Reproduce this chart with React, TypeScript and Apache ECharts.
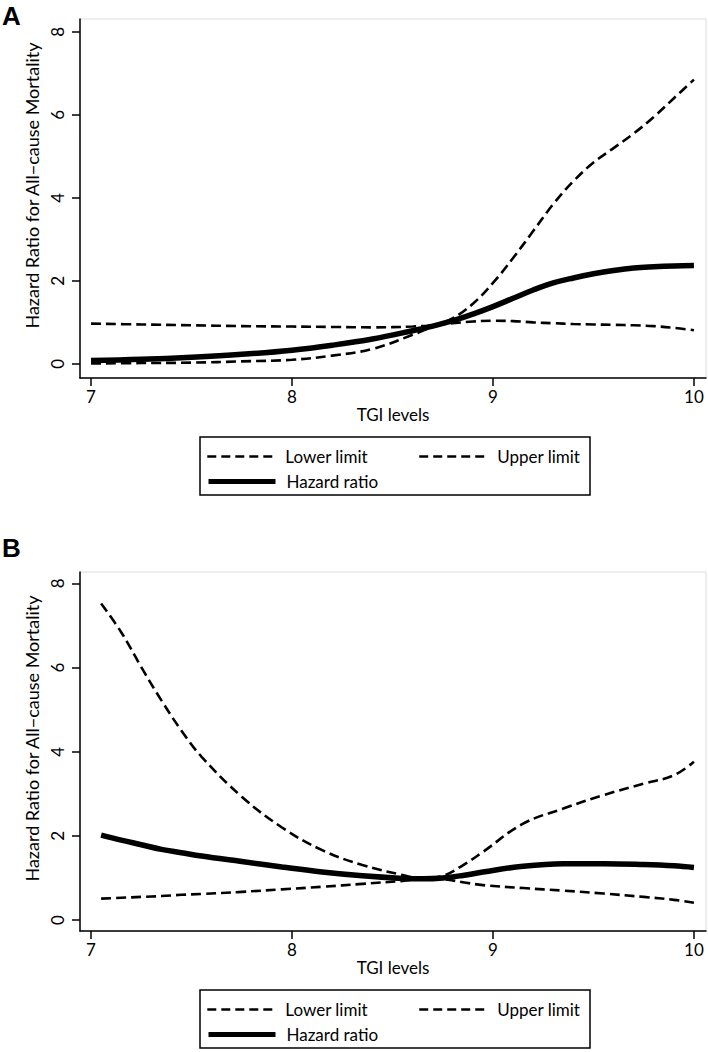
import React, { useEffect, useRef } from "react";
import * as echarts from "echarts";

// Panel A data
const xA = [7, 7.25, 7.5, 7.75, 8, 8.2, 8.4, 8.6, 8.7, 8.8, 8.9, 9, 9.1, 9.2, 9.3, 9.4, 9.5, 9.6, 9.7, 9.8, 9.9, 10];
const upperA = [0.01, 0.02, 0.03, 0.06, 0.1, 0.2, 0.36, 0.7, 0.9, 1.1, 1.45, 1.95, 2.55, 3.2, 3.85, 4.4, 4.85, 5.2, 5.55, 5.95, 6.4, 6.85];
const lowerA = [0.97, 0.95, 0.93, 0.91, 0.9, 0.89, 0.88, 0.9, 0.93, 0.98, 1.02, 1.04, 1.03, 1.0, 0.98, 0.96, 0.95, 0.94, 0.93, 0.91, 0.87, 0.81];
const hrA = [0.08, 0.11, 0.16, 0.23, 0.33, 0.45, 0.6, 0.8, 0.91, 1.04, 1.2, 1.38, 1.58, 1.78, 1.95, 2.07, 2.17, 2.25, 2.31, 2.34, 2.36, 2.37];

// Panel B data
const xB = [7.05, 7.15, 7.25, 7.35, 7.45, 7.55, 7.75, 7.95, 8.15, 8.35, 8.55, 8.65, 8.75, 8.85, 8.95, 9.15, 9.35, 9.55, 9.75, 9.9, 10];
const upperB = [7.52, 6.84, 6.01, 5.22, 4.5, 3.88, 2.93, 2.2, 1.66, 1.31, 1.07, 0.99, 1.05, 1.3, 1.62, 2.29, 2.65, 2.97, 3.24, 3.44, 3.76];
const lowerB = [0.51, 0.53, 0.55, 0.57, 0.6, 0.62, 0.67, 0.73, 0.79, 0.86, 0.93, 0.98, 0.97, 0.9, 0.83, 0.76, 0.7, 0.63, 0.55, 0.48, 0.41];
const hrB = [2.02, 1.9, 1.79, 1.68, 1.6, 1.52, 1.39, 1.26, 1.14, 1.05, 0.99, 0.98, 1.0, 1.06, 1.14, 1.28, 1.34, 1.34, 1.32, 1.29, 1.25];

const xTicks = [7, 8, 9, 10];
const yTicks = [0, 2, 4, 6, 8];
const seriesNames = ["Lower limit", "Upper limit", "Hazard ratio"];
const xTitle = "TGI levels";
const yTitle = "Hazard Ratio for All\u2212cause Mortality";
const panelLabels = ["A", "B"];

const FONT = "Lato";
const OFFSET = 553;

const pairs = (xs: number[], ys: number[]) => xs.map((x, i) => [x, ys[i]]);

export default function App() {
  const ref = useRef<HTMLDivElement>(null);
  useEffect(() => {
    if (!ref.current) return;
    const chart = echarts.init(ref.current, undefined, { renderer: "svg" });
    const tops = [19, 19 + OFFSET];
    const grids = tops.map((t) => ({
      left: 80,
      top: t,
      width: 626,
      height: 359,
      show: true,
      borderColor: "#dcdcdc",
      borderWidth: 1,
      backgroundColor: "transparent",
    }));
    const yMin = [-0.34, -0.26];
    const yMax = [8.31, 8.27];
    const xAxes = [0, 1].map((i) => ({
      type: "value",
      gridIndex: i,
      min: 6.945,
      max: 10.06,
      name: xTitle,
      nameLocation: "middle",
      nameGap: 27,
      nameTextStyle: { fontFamily: FONT, fontSize: 17, color: "#000" },
      axisLine: { show: true, onZero: false, lineStyle: { color: "#000", width: 1.5 } },
      axisTick: { show: true, length: 8, customValues: xTicks, lineStyle: { color: "#000", width: 1.5 } },
      axisLabel: { customValues: xTicks, margin: 10, fontFamily: FONT, fontSize: 17, color: "#000" },
      splitLine: { show: false },
    }));
    const yAxes = [0, 1].map((i) => ({
      type: "value",
      gridIndex: i,
      min: yMin[i],
      max: yMax[i],
      name: yTitle,
      nameLocation: "middle",
      nameGap: 24,
      nameRotate: 90,
      nameTextStyle: { fontFamily: FONT, fontSize: 18, color: "#000", padding: [0, 0, 0, 26] },
      axisLine: { show: true, onZero: false, lineStyle: { color: "#000", width: 1.5 } },
      axisTick: { show: true, length: 8, customValues: yTicks, lineStyle: { color: "#000", width: 1.5 } },
      axisLabel: { customValues: yTicks, rotate: 90, margin: 14, fontFamily: FONT, fontSize: 17, color: "#000" },
      splitLine: { show: false },
    }));
    const dashed = { color: "#000", width: 2.6, type: [10, 5] as any };
    const solid = { color: "#000", width: 5.5, type: "solid" as any };
    const mk = (name: string, xs: number[], ys: number[], idx: number, style: any, z: number) => ({
      name,
      type: "line",
      xAxisIndex: idx,
      yAxisIndex: idx,
      data: pairs(xs, ys),
      smooth: 0.4,
      symbol: "none",
      lineStyle: style,
      itemStyle: { color: "#000" },
      z,
    });
    const series = [
      mk(seriesNames[0], xA, lowerA, 0, dashed, 2),
      mk(seriesNames[1], xA, upperA, 0, dashed, 2),
      mk(seriesNames[2], xA, hrA, 0, solid, 3),
      mk(seriesNames[0], xB, lowerB, 1, dashed, 2),
      mk(seriesNames[1], xB, upperB, 1, dashed, 2),
      mk(seriesNames[2], xB, hrB, 1, solid, 3),
    ];
    const boxTops = [437, 437 + OFFSET];
    const legendBase = {
      orient: "horizontal",
      itemWidth: 67,
      itemHeight: 14,
      padding: 0,
      selectedMode: false,
      itemStyle: { opacity: 0 },
      textStyle: { fontFamily: FONT, fontSize: 17, color: "#000", padding: [0, 0, 0, 6] },
    };
    const legends: any[] = [];
    boxTops.forEach((t) => {
      legends.push({
        ...legendBase,
        left: 206,
        top: t + 11,
        itemGap: 50,
        data: [seriesNames[0], seriesNames[1]],
        lineStyle: { color: "#000", width: 2.6, type: [9, 5], dashOffset: 0 },
      });
      legends.push({
        ...legendBase,
        left: 206,
        top: t + 36,
        data: [seriesNames[2]],
        lineStyle: { color: "#000", width: 5, type: "solid" },
      });
    });
    const boxes = boxTops.map((t) => ({
      type: "rect",
      shape: { x: 200, y: t, width: 390, height: 58 },
      style: { fill: "none", stroke: "#000", lineWidth: 1.5 },
      silent: true,
    }));
    chart.setOption({
      animation: false,
      backgroundColor: "#fff",
      grid: grids,
      xAxis: xAxes,
      yAxis: yAxes,
      legend: legends,
      series,
      graphic: [
        ...boxes,
        {
          type: "text",
          left: 2,
          top: 3,
          style: { text: panelLabels[0], font: "bold 26px 'Liberation Sans', Arial, sans-serif", fill: "#000" },
        },
        {
          type: "text",
          left: 2,
          top: 535,
          style: { text: panelLabels[1], font: "bold 26px 'Liberation Sans', Arial, sans-serif", fill: "#000" },
        },
      ],
    } as any);
    return () => chart.dispose();
  }, []);
  return (
    <div
      ref={ref}
      style={{ position: "absolute", left: 0, top: 0, width: 708, height: 1052, background: "#fff" }}
    />
  );
}
